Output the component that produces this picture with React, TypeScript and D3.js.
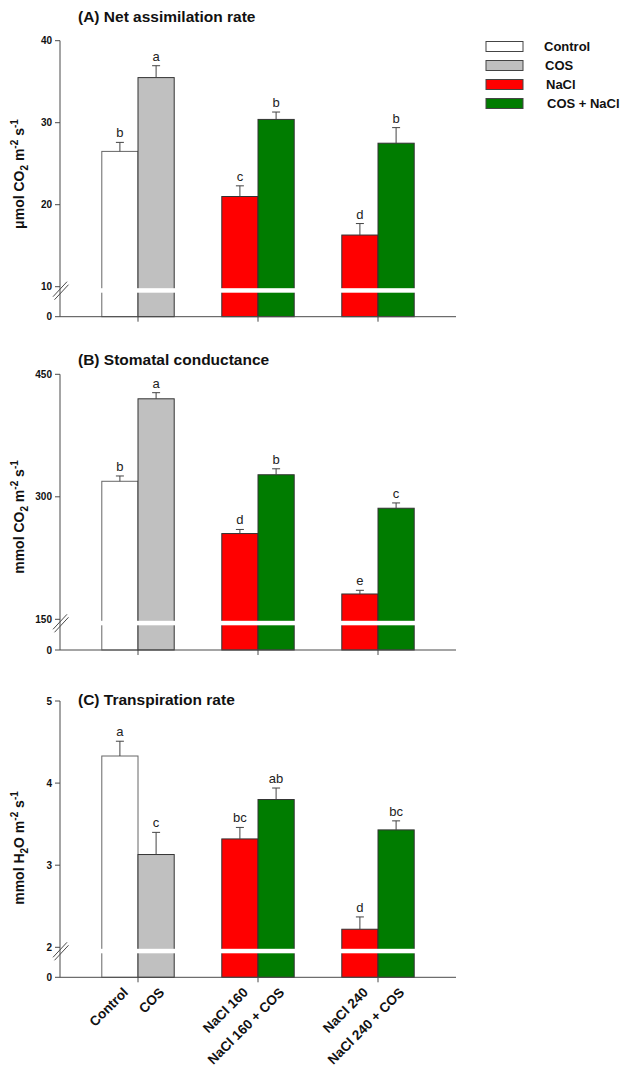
import React from "react";
import * as d3 from "d3";

const groups = ["g1", "g2", "g3"];
const categories = ["Control", "COS", "NaCl 160", "NaCl 160 + COS", "NaCl 240", "NaCl 240 + COS"];
const legendNames = ["Control", "COS", "NaCl", "COS + NaCl"];
const legendColors = ["#ffffff", "#c0c0c0", "#ff0000", "#007c00"];
const barColors = ["#ffffff", "#c0c0c0", "#ff0000", "#007c00", "#ff0000", "#007c00"];

const netAssimilation = [26.5, 35.5, 21.0, 30.4, 16.3, 27.5];
const netAssimilationErr = [1.1, 1.45, 1.3, 0.9, 1.4, 1.9];
const netAssimilationLetters = ["b", "a", "c", "b", "d", "b"];

const stomatal = [319, 420, 255, 327, 181, 286];
const stomatalErr = [6.5, 7.5, 5, 7.3, 4.5, 6.5];
const stomatalLetters = ["b", "a", "d", "b", "e", "c"];

const transpiration = [4.33, 3.13, 3.32, 3.8, 2.22, 3.43];
const transpirationErr = [0.18, 0.27, 0.14, 0.14, 0.15, 0.11];
const transpirationLetters = ["a", "c", "bc", "ab", "d", "bc"];

const ticksA = [0, 10, 20, 30, 40];
const ticksB = [0, 150, 300, 450];
const ticksC = [0, 2, 3, 4, 5];

const FONT = "Arial, 'Liberation Sans', Helvetica, sans-serif";
const AXIS = "#4a4a4a";

const x0 = 60;
const x1 = 456;
const groupScale = d3.scalePoint<string>().domain(groups).range([x0, x1]).padding(0.65);
const subScale = d3.scaleBand<number>().domain([0, 1]).range([-36.2, 36.2]).padding(0);

function barX(i: number) {
  const g = groups[Math.floor(i / 2)];
  return (groupScale(g) as number) + (subScale(i % 2) as number);
}

type LabelPart = { t: string; shift?: "sub" | "sup" };

type PanelDef = {
  title: string;
  titleY: number;
  values: number[];
  errs: number[];
  letters: string[];
  ticks: number[];
  breakVal: number;
  max: number;
  top: number;
  bottom: number;
  breakY: number;
  label: LabelPart[];
  labelCY: number;
  xLabels: boolean;
};

const panels: PanelDef[] = [
  {
    title: "(A) Net assimilation rate",
    titleY: 22,
    values: netAssimilation,
    errs: netAssimilationErr,
    letters: netAssimilationLetters,
    ticks: ticksA,
    breakVal: 10,
    max: 40,
    top: 40.7,
    bottom: 316.7,
    breakY: 286.7,
    label: [
      { t: "\u03bcmol CO" },
      { t: "2", shift: "sub" },
      { t: " m" },
      { t: "-2", shift: "sup" },
      { t: " s" },
      { t: "-1", shift: "sup" },
    ],
    labelCY: 174,
    xLabels: false,
  },
  {
    title: "(B) Stomatal conductance",
    titleY: 365,
    values: stomatal,
    errs: stomatalErr,
    letters: stomatalLetters,
    ticks: ticksB,
    breakVal: 150,
    max: 450,
    top: 374.3,
    bottom: 650,
    breakY: 619.3,
    label: [
      { t: "mmol CO" },
      { t: "2", shift: "sub" },
      { t: " m" },
      { t: "-2", shift: "sup" },
      { t: " s" },
      { t: "-1", shift: "sup" },
    ],
    labelCY: 517,
    xLabels: false,
  },
  {
    title: "(C) Transpiration rate",
    titleY: 704.5,
    values: transpiration,
    errs: transpirationErr,
    letters: transpirationLetters,
    ticks: ticksC,
    breakVal: 2,
    max: 5,
    top: 701,
    bottom: 977.3,
    breakY: 947.3,
    label: [
      { t: "mmol H" },
      { t: "2", shift: "sub" },
      { t: "O m" },
      { t: "-2", shift: "sup" },
      { t: " s" },
      { t: "-1", shift: "sup" },
    ],
    labelCY: 848,
    xLabels: true,
  },
];

function AxisLabel({ parts, cy }: { parts: LabelPart[]; cy: number }) {
  const nodes: React.ReactNode[] = [];
  let cur = 0;
  parts.forEach((p, i) => {
    const target = p.shift === "sub" ? 4 : p.shift === "sup" ? -6 : 0;
    const dy = target - cur;
    cur = target;
    nodes.push(
      <tspan key={i} dy={dy} fontSize={p.shift ? 10 : 14}>
        {p.t}
      </tspan>
    );
  });
  return (
    <text
      transform={`translate(24,${cy}) rotate(-90)`}
      textAnchor="middle"
      fontFamily={FONT}
      fontWeight="bold"
      fontSize={14}
      fill="#111"
    >
      {nodes}
    </text>
  );
}

function Panel({ p }: { p: PanelDef }) {
  const y = d3
    .scaleLinear()
    .domain([0, p.breakVal, p.max])
    .range([p.bottom, p.breakY, p.top]);
  const bw = subScale.bandwidth();
  const gapTop = p.breakY + 1.5;
  const gapH = 4.5;
  const brkC = p.breakY + 3;
  return (
    <g>
      <text x={78} y={p.titleY} fontFamily={FONT} fontWeight="bold" fontSize={15.5} fill="#111">
        {p.title}
      </text>
      {p.values.map((v, i) => {
        const x = barX(i);
        const cx = x + bw / 2;
        const yt = y(v);
        const ye = y(v + p.errs[i]);
        return (
          <g key={i}>
            <rect
              x={x}
              y={yt}
              width={bw}
              height={p.bottom - yt}
              fill={barColors[i]}
              stroke={i === 0 ? "#666" : "#333"}
              strokeWidth={1}
            />
            <line x1={cx} x2={cx} y1={yt} y2={ye} stroke="#444" strokeWidth={1} />
            <line x1={cx - 4} x2={cx + 4} y1={ye} y2={ye} stroke="#444" strokeWidth={1} />
            <text
              x={cx}
              y={ye - 5}
              textAnchor="middle"
              fontFamily={FONT}
              fontSize={13}
              fill="#222"
            >
              {p.letters[i]}
            </text>
          </g>
        );
      })}
      {groups.map((g) => {
        const gx = groupScale(g) as number;
        return (
          <rect key={g} x={gx - bw - 1} y={gapTop} width={2 * bw + 2} height={gapH} fill="#ffffff" />
        );
      })}
      <line x1={x0} x2={x0} y1={p.top} y2={p.bottom} stroke={AXIS} strokeWidth={1} />
      <line x1={x0} x2={x1} y1={p.bottom} y2={p.bottom} stroke={AXIS} strokeWidth={1} />
      {p.ticks.map((t) => (
        <g key={t}>
          <line x1={x0 - 5} x2={x0} y1={y(t)} y2={y(t)} stroke={AXIS} strokeWidth={1} />
          <text
            x={52}
            y={y(t) + 3.5}
            textAnchor="end"
            fontFamily={FONT}
            fontWeight="bold"
            fontSize={10}
            fill="#111"
          >
            {t}
          </text>
        </g>
      ))}
      {groups.map((g) => {
        const gx = groupScale(g) as number;
        return <line key={g} x1={gx} x2={gx} y1={p.bottom} y2={p.bottom + 5} stroke={AXIS} strokeWidth={1} />;
      })}
      <line x1={x0 - 7} x2={x0 + 7} y1={brkC + 7} y2={brkC - 8} stroke={AXIS} strokeWidth={1} />
      <line x1={x0 - 5.5} x2={x0 + 8.5} y1={brkC + 10} y2={brkC - 5} stroke={AXIS} strokeWidth={1} />
      <AxisLabel parts={p.label} cy={p.labelCY} />
      {p.xLabels &&
        categories.map((c, i) => {
          const cx = barX(i) + bw / 2 + 9;
          const ly = p.bottom + 16;
          return (
            <text
              key={c}
              transform={`translate(${cx},${ly}) rotate(-45)`}
              textAnchor="end"
              fontFamily={FONT}
              fontWeight="bold"
              fontSize={13.5}
              fill="#111"
            >
              {c}
            </text>
          );
        })}
    </g>
  );
}

function Legend() {
  const ys = d3.range(legendNames.length).map((i) => 41.5 + i * 19);
  return (
    <g>
      {legendNames.map((n, i) => (
        <g key={n}>
          <rect x={486} y={ys[i]} width={37} height={10} fill={legendColors[i]} stroke="#444" strokeWidth={1} />
          <text x={544 + i} y={ys[i] + 9.5} fontFamily={FONT} fontWeight="bold" fontSize={13} fill="#111">
            {n}
          </text>
        </g>
      ))}
    </g>
  );
}

export default function App() {
  return (
    <svg
      width={629}
      height={1074}
      style={{ position: "absolute", left: 0, top: 0, background: "#fff" }}
    >
      <rect width={629} height={1074} fill="#fff" />
      {panels.map((p) => (
        <Panel key={p.title} p={p} />
      ))}
      <Legend />
    </svg>
  );
}
